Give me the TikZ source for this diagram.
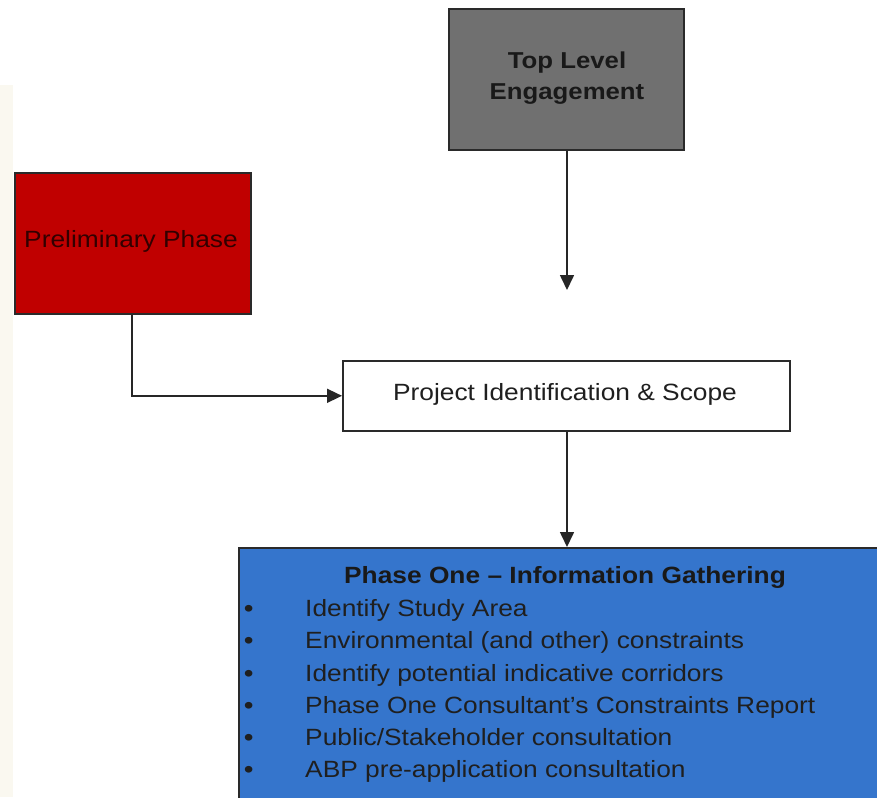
\documentclass[tikz,border=0pt]{standalone}
\usepackage{fontspec}
\setmainfont{Liberation Sans}[FakeStretch=1.12]
\usetikzlibrary{arrows.meta}
\definecolor{topgray}{HTML}{707070}
\definecolor{prelred}{HTML}{C00000}
\definecolor{phaseblue}{HTML}{3575CC}
\definecolor{edgegray}{HTML}{2A2A2A}
\definecolor{leftcream}{HTML}{FAF8F0}
\tikzset{
  boxbase/.style={draw=edgegray, line width=1.6pt, inner sep=0pt, anchor=north west},
  conn/.style={line width=1.6pt, draw=black!85, -{Triangle[length=15pt,width=14pt]}},
}
\begin{document}
\begin{tikzpicture}[x=1pt,y=-1pt]
\useasboundingbox (0,0) rectangle (877,797);
\clip (0,0) rectangle (877,797);
\fill[white] (0,0) rectangle (877,797);
\fill[leftcream] (0,85) rectangle (13,797);
% boxes
\node[boxbase, fill=topgray, minimum width=235pt, minimum height=141pt] (top) at (448,8) {};
\node[font=\fontsize{23}{31}\selectfont\bfseries, align=center, text=black!90] (toptext) at (567,78) {Top Level\\Engagement};
\node[boxbase, fill=prelred, minimum width=236pt, minimum height=141pt] (prelim) at (14,172) {};
\node[font=\fontsize{23.5}{26}\selectfont, text={rgb,255:red,50;green,0;blue,0}] (prelimtext) at (131,241) {Preliminary Phase};
\node[boxbase, fill=white, minimum width=447pt, minimum height=70pt] (proj) at (342,360) {};
\node[font=\fontsize{23.5}{26}\selectfont, text=black!88] (projtext) at (565,394) {Project Identification \& Scope};
\node[boxbase, fill=phaseblue, minimum width=700pt, minimum height=300pt] (phase) at (238,547) {};
\node[font=\fontsize{23.5}{26}\selectfont\bfseries, text=black!90] (phasetitle) at (565,577) {Phase One – Information Gathering};
\node[font=\fontsize{23.5}{32.2}\selectfont, text=black!88, anchor=north west, inner sep=0pt, align=left] (phaselist) at (244,594)
{\begin{tabular}{@{}p{61pt}@{}l@{}}
\textbf{•}&Identify Study Area\\
\textbf{•}&Environmental (and other) constraints\\
\textbf{•}&Identify potential indicative corridors\\
\textbf{•}&Phase One Consultant{\char"0027}s Constraints Report\\
\textbf{•}&Public/Stakeholder consultation\\
\textbf{•}&ABP pre-application consultation
\end{tabular}};
% connectors
\coordinate (topend) at (top.south |- 0,290);
\draw[conn] (top.south -| 567,0) -- (topend -| 567,0);
\draw[conn] (prelim.south -| 132,0) |- (proj.west);
\draw[conn] (proj.south -| 567,0) -- (phase.north -| 567,0);
\end{tikzpicture}
\end{document}
